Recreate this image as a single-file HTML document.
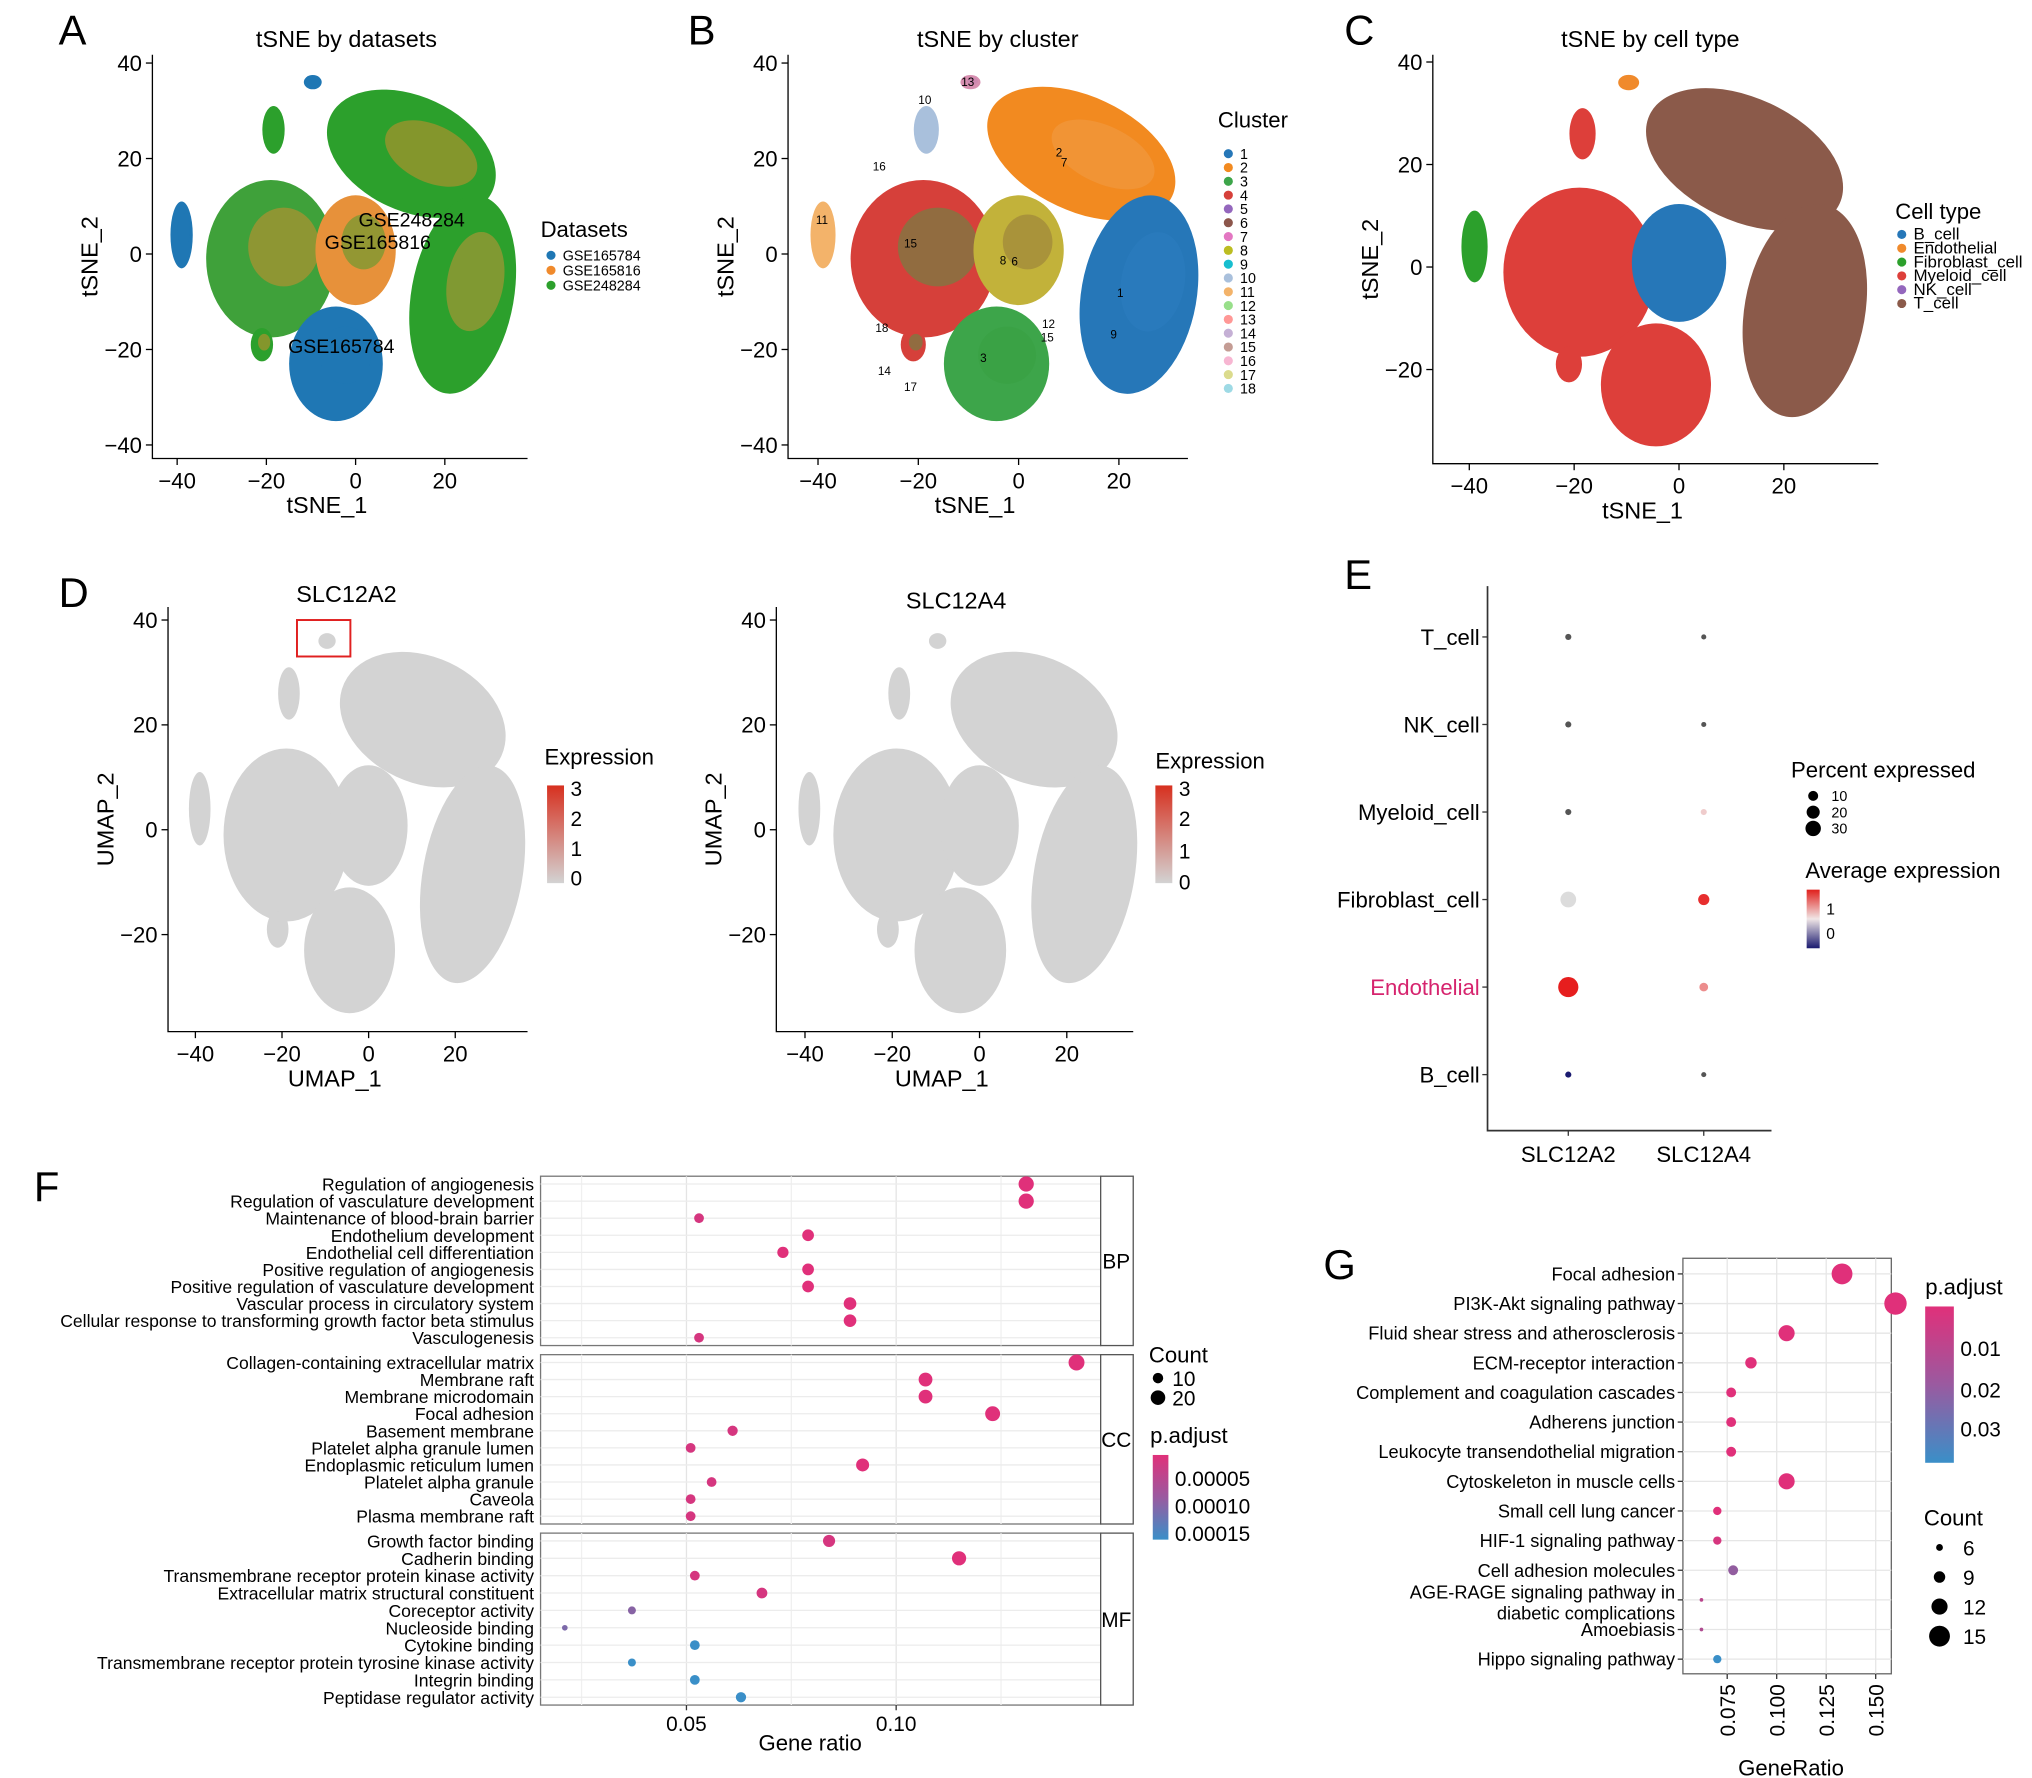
<!DOCTYPE html>
<html><head><meta charset="utf-8">
<style>
html,body{margin:0;padding:0;background:#fff;}
svg{display:block;font-family:"Liberation Sans",Arial,sans-serif;}
</style></head>
<body>
<svg id="fig" xmlns="http://www.w3.org/2000/svg" width="2032" height="1778" viewBox="0 0 1560 1365" preserveAspectRatio="none"></svg>
<script>
// ---------- data ----------
const blobX = [12.5, 24, -19, 0, -4.4, -39, -9.6, -18.4, -21];
const blobY = [21, -8.5, -1, 0.8, -23, 4, 36, 26, -19];
const blobRX = [20, 11.5, 14.5, 9, 10.5, 2.5, 2, 2.5, 2.5];
const blobRY = [12, 21, 16.5, 11.5, 12, 7, 1.5, 5, 3.5];
const blobRot = [25, 10, 0, 0, 0, 0, 0, 0, 0];
const colA = ['#2ca02c','#2ca02c','#3fa13a','#e7913a','#1f77b4','#1f77b4','#1f77b4','#2ca02c','#2ca02c'];
const colA2 = ['#f08a2c','#e7913a','#f08a2c','#2ca02c','#1f77b4','#1f77b4','#1f77b4','#2ca02c','#f08a2c'];
const colB = ['#f28a20','#2677b8','#d6403a','#c2b23a','#3da54a','#f3b36a','#d78fb0','#a9c0dc','#d6403a'];
const colB2 = ['#f0a050','#2f7fc0','#3fa14a','#8c6d3c','#38a040','#f3b36a','#c080b0','#a9c0dc','#3fa14a'];
const colC = ['#8b5a4a','#8b5a4a','#dd3f3a','#2677b8','#dd3f3a','#2ca02c','#f08a2c','#dd3f3a','#dd3f3a'];
const colD = ['#d3d3d3','#d3d3d3','#d3d3d3','#d3d3d3','#d3d3d3','#d3d3d3','#d3d3d3','#d3d3d3','#d3d3d3'];
const tickX = [-40,-20,0,20];
const tickY5 = [40,20,0,-20,-40];
const tickY4 = [40,20,0,-20];

const eCats = ['T_cell','NK_cell','Myeloid_cell','Fibroblast_cell','Endothelial','B_cell'];
const eGenes = ['SLC12A2','SLC12A4'];
const ePctA2 = [1,1,1,14,25,1];
const ePctA4 = [0.5,0.5,1,6,3,0.5];
const eAvgA2 = [0,0,0,0.6,1.5,-0.6];
const eAvgA4 = [0,0,0.4,1.4,0.8,0];

const fBP = ['Regulation of angiogenesis','Regulation of vasculature development','Maintenance of blood-brain barrier','Endothelium development','Endothelial cell differentiation','Positive regulation of angiogenesis','Positive regulation of vasculature development','Vascular process in circulatory system','Cellular response to transforming growth factor beta stimulus','Vasculogenesis'];
const fBPratio = [0.131,0.131,0.053,0.079,0.073,0.079,0.079,0.089,0.089,0.053];
const fBPcount = [22,22,9,13,12,13,13,15,15,9];
const fBPp = [0.00001,0.00001,0.00002,0.00001,0.00001,0.00001,0.00001,0.00001,0.00001,0.00002];
const fCC = ['Collagen-containing extracellular matrix','Membrane raft','Membrane microdomain','Focal adhesion','Basement membrane','Platelet alpha granule lumen','Endoplasmic reticulum lumen','Platelet alpha granule','Caveola','Plasma membrane raft'];
const fCCratio = [0.143,0.107,0.107,0.123,0.061,0.051,0.092,0.056,0.051,0.051];
const fCCcount = [24,18,18,21,10,9,16,9,9,9];
const fCCp = [0.00001,0.00001,0.00001,0.00001,0.00002,0.00002,0.00001,0.00002,0.00002,0.00002];
const fMF = ['Growth factor binding','Cadherin binding','Transmembrane receptor protein kinase activity','Extracellular matrix structural constituent','Coreceptor activity','Nucleoside binding','Cytokine binding','Transmembrane receptor protein tyrosine kinase activity','Integrin binding','Peptidase regulator activity'];
const fMFratio = [0.084,0.115,0.052,0.068,0.037,0.021,0.052,0.037,0.052,0.063];
const fMFcount = [14,19,9,11,6,3,9,6,9,10];
const fMFp = [0.00002,0.00001,0.00002,0.00002,0.00009,0.00010,0.00016,0.00016,0.00016,0.00016];
const fTicks = [0.05,0.10];

const gPath = ['Focal adhesion','PI3K-Akt signaling pathway','Fluid shear stress and atherosclerosis','ECM-receptor interaction','Complement and coagulation cascades','Adherens junction','Leukocyte transendothelial migration','Cytoskeleton in muscle cells','Small cell lung cancer','HIF-1 signaling pathway','Cell adhesion molecules','AGE-RAGE signaling pathway in|diabetic complications','Amoebiasis','Hippo signaling pathway'];
const gRatio = [0.133,0.160,0.105,0.087,0.077,0.077,0.077,0.105,0.070,0.070,0.078,0.062,0.062,0.070];
const gCount = [15,16,12,9,8,8,8,12,7,7,8,4,4,7];
const gP = [0.004,0.004,0.004,0.004,0.004,0.004,0.004,0.004,0.004,0.006,0.020,0.012,0.014,0.038];
const gTicks = [0.075,0.100,0.125,0.150];
const gLegCounts = [6,9,12,15];

// ---------- helpers ----------
const NS='http://www.w3.org/2000/svg';
const svg=document.getElementById('fig');
function mk(tag, attrs, parent){const e=document.createElementNS(NS,tag);for(const k in attrs)e.setAttribute(k,attrs[k]);(parent||svg).appendChild(e);return e;}
function txt(x,y,s,size,anchor,parent,extra){const e=mk('text',Object.assign({x:x,y:y,'font-size':size,'text-anchor':anchor||'start',fill:'#000'},extra||{}),parent);e.textContent=s;return e;}
function grp(name){const g=mk('g',{});return g;}

[['A',45,34],['B',528,34],['C',1032,34],['D',45,466],['E',1032,452],['F',26,922],['G',1016,982]].forEach(p=>{
  const t=txt(p[1],p[2],p[0],32,'start');
  
  
});

// ---------- scatter panels ----------
function scatter(name,cfg,cols,cols2){
  const g=grp(name);
  const X=v=>cfg.x0+v*cfg.sx/20, Y=v=>cfg.y0-v*cfg.sy/20;
  for(let i=0;i<blobX.length;i++){
    const cx=X(blobX[i]),cy=Y(blobY[i]),rx=blobRX[i]*cfg.sx/20,ry=blobRY[i]*cfg.sy/20;
    const e=mk('ellipse',{cx:cx,cy:cy,rx:rx,ry:ry,fill:cols[i],transform:`rotate(${blobRot[i]} ${cx} ${cy})`},g);
    
    
    if(cols2){
      const e2=mk('ellipse',{cx:cx+rx*0.2,cy:cy-ry*0.15,rx:rx*0.55,ry:ry*0.5,fill:cols2[i],opacity:0.45,transform:`rotate(${blobRot[i]} ${cx} ${cy})`},g);
      
      
    }
  }
  const ax=mk('path',{d:`M${cfg.left},${cfg.top} V${cfg.bottom} H${cfg.right}`,stroke:'#000','stroke-width':1,fill:'none'},g);
  
  
  tickX.forEach(v=>{mk('line',{x1:X(v),x2:X(v),y1:cfg.bottom,y2:cfg.bottom+5,stroke:'#000'},g);const t=txt(X(v),cfg.bottom+23,v<0?'\u2212'+(-v):String(v),17,'middle',g);});
  cfg.yt.forEach(v=>{mk('line',{x1:cfg.left-5,x2:cfg.left,y1:Y(v),y2:Y(v),stroke:'#000'},g);const t=txt(cfg.left-8,Y(v)+6,v<0?'\u2212'+(-v):String(v),17,'end',g);});
  const xt=txt((cfg.left+cfg.right)/2-10,cfg.bottom+42,cfg.xl,18,'middle',g);
  
  
  const yt=txt(0,0,cfg.yl,18,'middle',g,{transform:`translate(${cfg.left-42},${(cfg.top+cfg.bottom)/2}) rotate(-90)`});
  
  
  const tt=txt(cfg.tx,cfg.ty,cfg.title,18,'middle',g);
  
  
  return {g,X,Y};
}
scatter('tsne-datasets',{x0:273,sx:68.5,y0:195,sy:73.3,left:117,right:405,top:42,bottom:352,yt:tickY5,xl:'tSNE_1',yl:'tSNE_2',title:'tSNE by datasets',tx:266,ty:36},colA,colA2);
scatter('tsne-cluster',{x0:782,sx:77,y0:195,sy:73.3,left:605,right:912,top:42,bottom:352,yt:tickY5,xl:'tSNE_1',yl:'tSNE_2',title:'tSNE by cluster',tx:766,ty:36},colB,colB2);
scatter('tsne-celltype',{x0:1289,sx:80.5,y0:205,sy:78.7,left:1100,right:1442,top:42,bottom:356,yt:tickY4,xl:'tSNE_1',yl:'tSNE_2',title:'tSNE by cell type',tx:1267,ty:36},colC,null);
scatter('umap-slc12a2',{x0:283,sx:66.5,y0:637,sy:80.5,left:129,right:405,top:466,bottom:792,yt:tickY4,xl:'UMAP_1',yl:'UMAP_2',title:'SLC12A2',tx:266,ty:462},colD,null);
scatter('umap-slc12a4',{x0:752,sx:67,y0:637,sy:80.5,left:596,right:870,top:466,bottom:792,yt:tickY4,xl:'UMAP_1',yl:'UMAP_2',title:'SLC12A4',tx:734,ty:467},colD,null);
const hb=mk('rect',{x:228,y:476,width:41,height:28,fill:'none',stroke:'#e02020','stroke-width':1.5});


[['GSE248284',316,174],['GSE165816',290,191],['GSE165784',262,271]].forEach(l=>{const t=txt(l[1],l[2],l[0],15,'middle');});
[['13',743,66],['10',710,80],['2',813,120],['7',817,128],['16',675,131],['11',631,172],['15',699,190],['8',770,203],['6',779,204],['1',860,228],['18',677,255],['12',805,252],['15',804,262],['9',855,260],['3',755,278],['14',679,288],['17',699,300]].forEach(l=>{const t=txt(l[1],l[2],l[0],9,'middle');});

function dotLegend(name,title,tx,ty,items,colors,x,y0,dy,fs){
  const g=grp(name);
  txt(tx,ty,title,17,'start',g);
  items.forEach((s,i)=>{const c=mk('circle',{cx:x,cy:y0+i*dy,r:3.5,fill:colors[i]},g);const t=txt(x+9,y0+i*dy+4,s,fs,'start',g);});
}
dotLegend('legend-datasets','Datasets',415,182,['GSE165784','GSE165816','GSE248284'],['#1f77b4','#f08a2c','#2ca02c'],423,196,11.5,11);
const clusterCols=['#2677b8','#f28a20','#3da54a','#d6403a','#9467bd','#8c564b','#e377c2','#bcbd22','#17becf','#a9c0dc','#f3b36a','#98df8a','#ff9896','#c5b0d5','#c49c94','#f7b6d2','#dbdb8d','#9edae5'];
dotLegend('legend-cluster','Cluster',935,98,['1','2','3','4','5','6','7','8','9','10','11','12','13','14','15','16','17','18'],clusterCols,943,118,10.6,11);
dotLegend('legend-celltype','Cell type',1455,168,['B_cell','Endothelial','Fibroblast_cell','Myeloid_cell','NK_cell','T_cell'],['#2677b8','#f08a2c','#2ca02c','#dd3f3a','#9467bd','#8b5a4a'],1460,180,10.6,13);

const defs=mk('defs',{});
function grad(id,stops){const lg=mk('linearGradient',{id:id,x1:0,y1:0,x2:0,y2:1},defs);stops.forEach(s=>mk('stop',{offset:s[0],'stop-color':s[1]},lg));}
grad('gExpr',[[0,'#d7301f'],[1,'#d3d3d3']]);
grad('gAvg',[[0,'#e0201c'],[0.5,'#f0e6e6'],[1,'#1a1a70']]);
grad('gP',[[0,'#e0307a'],[0.5,'#9a5aa0'],[1,'#3a8fc8']]);
function colorbar(name,title,tx,ty,x,y,w,h,gid,labels){
  const g=grp(name);
  txt(tx,ty,title,17,'start',g);
  const r=mk('rect',{x:x,y:y,width:w,height:h,fill:`url(#${gid})`},g);
  
  
  labels.forEach(l=>{const t=txt(x+w+5,l[1]+5,l[0],l[2]||16,'start',g);});
}
colorbar('legend-expression-a2','Expression',418,587,420,603,13,75,'gExpr',[['3',606],['2',629],['1',652],['0',675]]);
colorbar('legend-expression-a4','Expression',887,590,887,603,13,75,'gExpr',[['3',606],['2',629],['1',654],['0',678]]);
colorbar('legend-avg-expression','Average expression',1386,674,1387,683,10,45,'gAvg',[['1',697,12],['0',716,12]]);
colorbar('legend-padjust-f','p.adjust',883,1108,885,1117,12,65,'gP',[['0.00005',1136],['0.00010',1157],['0.00015',1178]]);
colorbar('legend-padjust-g','p.adjust',1478,994,1478,1003,22,120,'gP',[['0.01',1036],['0.02',1068],['0.03',1098]]);

// ---------- Panel E ----------
(function(){
  const g=grp('dotplot-e');
  const Y=i=>489+i*67.2, X=i=>1204+i*104;
  mk('path',{d:'M1142,450 V868 H1360',stroke:'#333','stroke-width':1.3,fill:'none'},g);
  eCats.forEach((c,i)=>{mk('line',{x1:1138,x2:1142,y1:Y(i),y2:Y(i),stroke:'#333'},g);const t=txt(1136,Y(i)+6,c,17,'end',g,{fill:c==='Endothelial'?'#d6246e':'#000'});});
  eGenes.forEach((s,i)=>{mk('line',{x1:X(i),x2:X(i),y1:868,y2:872,stroke:'#333'},g);const t=txt(X(i),892,s,17,'middle',g);});
  function col(v){if(v>=0.3){const t=Math.min(1,(v-0.3)/1.2);const r=240-10*t,gg=220-190*t;return `rgb(${r},${gg},${gg})`;}if(v<=-0.3)return '#1a1a70';return '#555';}
  function colFib(v){return v>0.5&&v<0.8?'#dcdcdc':col(v);}
  [ePctA2,ePctA4].forEach((arr,j)=>{const avg=j?eAvgA4:eAvgA2;arr.forEach((p,i)=>{const c=mk('circle',{cx:X(j),cy:Y(i),r:1+Math.sqrt(p)*1.35,fill:j===0&&i===3?colFib(avg[i]):col(avg[i])},g);});});
  txt(1375,597,'Percent expressed',17,'start',g);
  [10,20,30].forEach((v,i)=>{mk('circle',{cx:1392,cy:611+i*12.5,r:1+Math.sqrt(v)*0.9,fill:'#000'},g);txt(1406,615+i*12.5,String(v),11,'start',g);});
})();

// ---------- Panel F ----------
(function(){
  const g=grp('go-dotplot-f');
  const X=v=>527+(v-0.05)/0.05*161;
  const boxes=[[903,1033,'BP',fBP,fBPratio,fBPcount,fBPp],[1040,1170,'CC',fCC,fCCratio,fCCcount,fCCp],[1177,1309,'MF',fMF,fMFratio,fMFcount,fMFp]];
  function pcol(p){const t=Math.min(1,Math.max(0,(p-0.00001)/0.00015));const a=[224,48,122],b=[58,143,200];return `rgb(${a.map((v,k)=>Math.round(v+(b[k]-v)*t)).join(',')})`;}
  boxes.forEach(b=>{
    const top=b[0],bot=b[1];
    mk('rect',{x:415,y:top,width:430,height:bot-top,fill:'#fff',stroke:'#777','stroke-width':1},g);
    [0.025,0.075,0.125].forEach(v=>mk('line',{x1:X(v),x2:X(v),y1:top,y2:bot,stroke:'#f0f0f0'},g));
    fTicks.forEach(v=>mk('line',{x1:X(v),x2:X(v),y1:top,y2:bot,stroke:'#e4e4e4'},g));
    const step=(bot-top-12)/9;
    b[3].forEach((s,i)=>{const y=top+6+i*step;mk('line',{x1:415,x2:845,y1:y,y2:y,stroke:'#ececec'},g);const t=txt(410,y+5,s,13.5,'end',g);
      const c=mk('circle',{cx:X(b[4][i]),cy:y,r:Math.sqrt(b[5][i])*1.25,fill:pcol(b[6][i])},g);});
    mk('rect',{x:845,y:top,width:25,height:bot-top,fill:'#fff',stroke:'#555'},g);
    const st=txt(857,(top+bot)/2+6,b[2],16,'middle',g);
  });
  fTicks.forEach(v=>{mk('line',{x1:X(v),x2:X(v),y1:1309,y2:1313,stroke:'#333'},g);const t=txt(X(v),1329,v.toFixed(2),16,'middle',g);});
  const xt=txt(622,1344,'Gene ratio',17,'middle',g);
  txt(882,1046,'Count',17,'start',g);
  mk('circle',{cx:889,cy:1058,r:4,fill:'#000'},g);txt(900,1064,'10',16,'start',g);
  mk('circle',{cx:889,cy:1073,r:5.6,fill:'#000'},g);txt(900,1079,'20',16,'start',g);
})();

// ---------- Panel G ----------
(function(){
  const g=grp('kegg-dotplot-g');
  const X=v=>1326+(v-0.075)/0.025*38, Y=i=>978+i*22.75;
  const R=c=>0.6*c-1;
  mk('rect',{x:1292,y:966,width:160,height:319,fill:'#fff',stroke:'#666'},g);
  gTicks.forEach(v=>mk('line',{x1:X(v),x2:X(v),y1:966,y2:1285,stroke:'#e6e6e6'},g));
  function pcol(p){const t=Math.min(1,Math.max(0,(p-0.004)/0.034));const a=[224,48,122],b=[58,143,200];return `rgb(${a.map((v,k)=>Math.round(v+(b[k]-v)*t)).join(',')})`;}
  gPath.forEach((s,i)=>{const y=Y(i);mk('line',{x1:1292,x2:1452,y1:y,y2:y,stroke:'#e6e6e6'},g);mk('line',{x1:1288,x2:1292,y1:y,y2:y,stroke:'#333'},g);
    const parts=s.split('|');
    if(parts.length>1){txt(1286,y-1,parts[0],14,'end',g);txt(1286,y+15,parts[1],14,'end',g);}
    else{const t=txt(1286,y+5,s,14,'end',g);}
    const c=mk('circle',{cx:X(gRatio[i]),cy:y,r:R(gCount[i]),fill:pcol(gP[i])},g);});
  gTicks.forEach(v=>{mk('line',{x1:X(v),x2:X(v),y1:1285,y2:1289,stroke:'#333'},g);const t=txt(0,0,v.toFixed(3),16,'end',g,{transform:`translate(${X(v)+6},${1293}) rotate(-90)`});});
  const xt=txt(1375,1363,'GeneRatio',17,'middle',g);
  txt(1477,1171,'Count',17,'start',g);
  gLegCounts.forEach((v,i)=>{mk('circle',{cx:1489,cy:1188+i*22.7,r:R(v),fill:'#000'},g);txt(1507,1194+i*22.7,String(v),16,'start',g);});
})();
</script>
</body></html>
